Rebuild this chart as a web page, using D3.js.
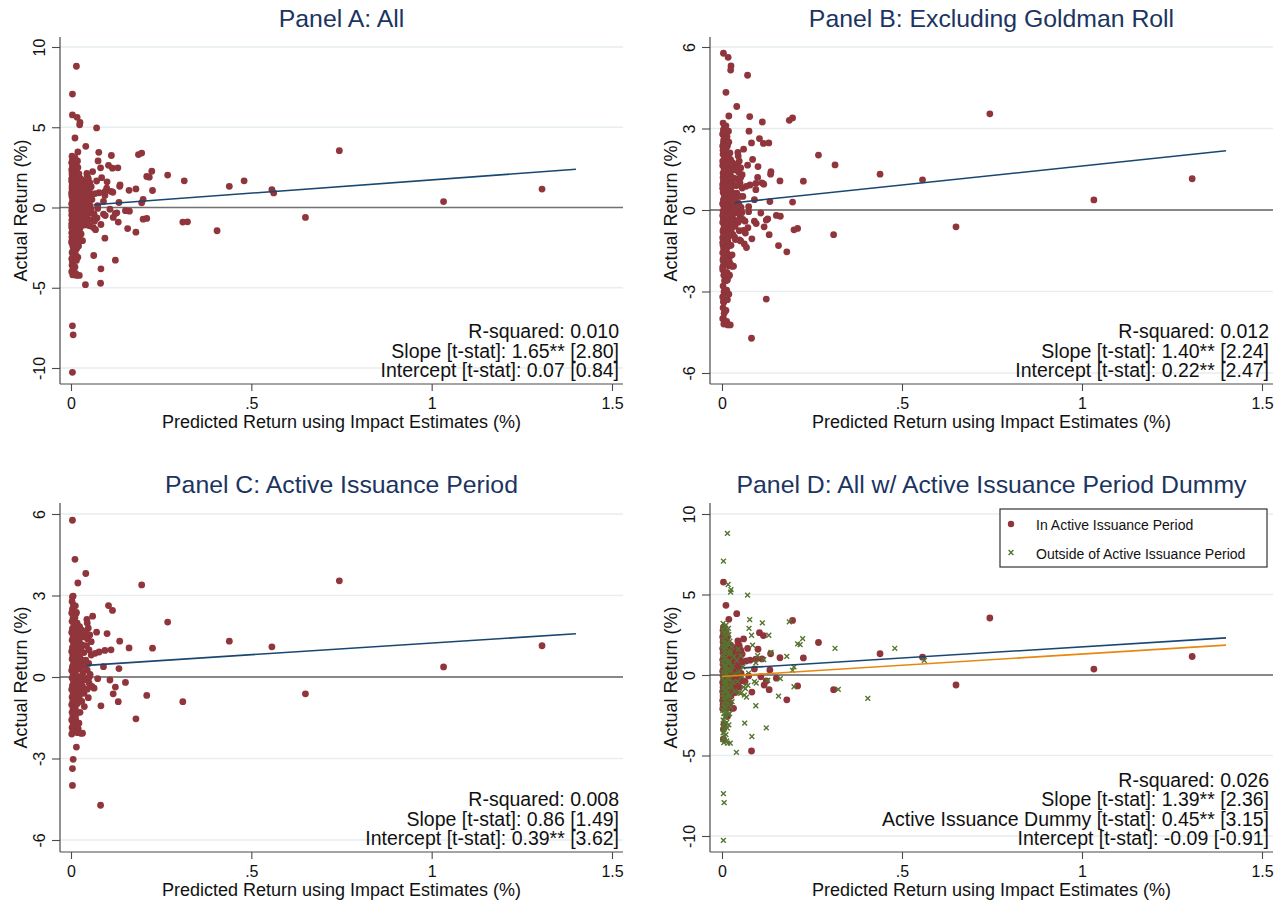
<!DOCTYPE html>
<html>
<head>
<meta charset="utf-8">
<script src="https://cdn.jsdelivr.net/npm/d3@7"></script>
<style>
  body { margin: 0; background: #fff; }
  svg text { font-family: "Liberation Sans", Arial, Helvetica, sans-serif; }
</style>
</head>
<body>
<div id="chart"></div>
<script>
// Predicted vs actual returns, in active issuance period (maroon dots)
const activePts = [
    [0.004, 5.77], [0.011, 4.33], [0.041, 3.81], [0.019, 3.46], [0.196, 3.39], [0.104, 2.63], [0.115, 2.45],
    [0.268, 2.02], [0.06, 2.24], [0.014, 2.34], [0.071, 1.65], [0.1, 1.6], [0.135, 1.32], [0.161, 1.07],
    [0.226, 1.06], [0.439, 1.32], [0.557, 1.11], [0.111, 1.0], [0.094, 0.98], [0.078, 0.92], [0.09, 0.38],
    [0.133, 0.31], [0.074, -0.06], [0.108, -0.11], [0.151, -0.2], [0.123, -0.37], [0.117, -0.62], [0.131, -0.91],
    [0.21, -0.68], [0.31, -0.91], [0.65, -0.62], [0.083, -1.06], [0.18, -1.54], [0.015, -2.58], [0.006, -3.03],
    [0.004, -3.37], [0.004, -3.99], [0.082, -4.72], [0.744, 3.54], [1.306, 1.15], [1.033, 0.37],
    // dense cluster near zero
    [0.004, 2.95], [0.006, 2.98], [0.003, 2.78], [0.007, 2.64], [0.004, 2.5], [0.002, 2.36], [0.006, 2.2],
    [0.003, 2.05], [0.008, 1.92], [0.004, 1.78], [0.002, 1.64], [0.006, 1.5], [0.003, 1.36], [0.007, 1.22],
    [0.004, 1.08], [0.002, 0.94], [0.005, 0.8], [0.003, 0.66], [0.007, 0.52], [0.004, 0.38], [0.002, 0.24],
    [0.006, 0.1], [0.003, -0.04], [0.007, -0.18], [0.004, -0.32], [0.002, -0.46], [0.006, -0.6], [0.003, -0.74],
    [0.005, -0.88], [0.002, -1.02], [0.006, -1.16], [0.003, -1.3], [0.005, -1.44], [0.002, -1.58], [0.006, -1.72],
    [0.003, -1.86], [0.005, -2.0], [0.002, -2.1],
    [0.012, 2.62], [0.015, 2.38], [0.011, 2.18], [0.017, 1.98], [0.013, 1.8], [0.018, 1.62], [0.012, 1.45],
    [0.016, 1.28], [0.013, 1.12], [0.019, 0.96], [0.012, 0.8], [0.016, 0.64], [0.014, 0.48], [0.019, 0.32],
    [0.012, 0.16], [0.017, 0.02], [0.013, -0.14], [0.018, -0.3], [0.012, -0.46], [0.016, -0.62], [0.013, -0.8],
    [0.018, -0.98], [0.012, -1.16], [0.015, -1.36], [0.013, -1.56], [0.017, -1.76], [0.02, -1.9], [0.018, -2.05],
    [0.024, 1.85], [0.03, 1.72], [0.026, 1.55], [0.035, 1.48], [0.023, 1.32], [0.031, 1.18], [0.027, 1.02],
    [0.036, 0.9], [0.024, 0.76], [0.032, 0.62], [0.028, 0.48], [0.038, 0.4], [0.025, 0.3], [0.033, 0.16],
    [0.029, 0.02], [0.037, -0.1], [0.024, -0.2], [0.032, -0.34], [0.027, -0.5], [0.036, -0.6], [0.023, -0.72],
    [0.03, -0.9], [0.025, -1.3], [0.022, -1.7], [0.027, -2.07], [0.032, -2.07],
    [0.044, 2.12], [0.045, 1.99], [0.048, 1.8], [0.042, 1.65], [0.052, 1.55], [0.046, 1.4], [0.056, 1.3],
    [0.043, 1.15], [0.05, 1.0], [0.041, 0.62], [0.049, 0.5], [0.045, 0.25], [0.053, 0.1], [0.042, -0.05],
    [0.05, -0.22], [0.058, -0.35], [0.045, -0.45], [0.048, -0.76], [0.037, -1.09], [0.056, 0.81], [0.067, 0.87],
    [0.064, -0.41], [0.051, 0.0]
];

// Outside active issuance period, kept in Panel B
const outsideKeep = [
    [0.017, 5.62], [0.025, 5.3], [0.024, 5.15], [0.071, 4.96], [0.077, 3.44], [0.075, 2.9], [0.112, 3.24],
    [0.187, 3.3], [0.082, 2.47], [0.13, 2.47], [0.314, 1.66], [0.136, 1.41], [0.116, 0.95], [0.099, 1.2],
    [0.085, 1.86], [0.094, 0.75], [0.074, 0.12], [0.196, 0.29], [0.162, -0.23], [0.127, -0.33], [0.095, -0.5],
    [0.09, -0.41], [0.072, -0.65], [0.065, -0.85], [0.052, -1.14], [0.2, -0.73], [0.157, -1.31], [0.123, -3.28],
    [0.016, -4.23], [0.023, -4.23],
    [0.003, 3.2], [0.006, 3.0], [0.002, 2.8], [0.005, 2.6], [0.008, 2.4], [0.003, 2.2], [0.006, 2.0],
    [0.002, 1.8], [0.005, 1.6], [0.007, 1.4], [0.003, 1.2], [0.006, 1.0], [0.002, 0.8], [0.005, 0.6],
    [0.008, 0.4], [0.003, 0.2], [0.006, 0.0], [0.002, -0.2], [0.005, -0.4], [0.007, -0.6], [0.003, -0.8],
    [0.006, -1.0], [0.002, -1.2], [0.005, -1.4], [0.008, -1.6], [0.003, -1.8], [0.006, -2.0], [0.002, -2.2],
    [0.005, -2.4], [0.007, -2.6], [0.003, -2.8], [0.006, -3.0], [0.002, -3.2], [0.005, -3.4], [0.003, -3.6],
    [0.006, -3.8], [0.002, -4.0], [0.005, -4.2],
    [0.011, 3.1], [0.014, 2.7], [0.01, 2.35], [0.015, 2.0], [0.012, 1.7], [0.016, 1.4], [0.01, 1.1],
    [0.014, 0.85], [0.011, 0.6], [0.016, 0.35], [0.012, 0.1], [0.015, -0.15], [0.01, -0.4], [0.014, -0.65],
    [0.011, -0.9], [0.016, -1.15], [0.012, -1.4], [0.015, -1.7], [0.01, -2.0], [0.014, -2.3], [0.011, -2.6],
    [0.013, -2.95], [0.015, -3.3], [0.011, -3.7], [0.013, -4.1],
    [0.018, 2.9], [0.019, 2.5], [0.018, 1.9], [0.02, 1.3], [0.018, 0.7], [0.019, 0.2], [0.018, -0.3],
    [0.02, -0.8], [0.018, -1.3], [0.019, -1.85], [0.018, -2.45], [0.019, -3.1],
    [0.022, 2.1], [0.028, 1.75], [0.024, 1.45], [0.033, 1.15], [0.021, 0.85], [0.029, 0.55], [0.025, 0.3],
    [0.034, 0.05], [0.022, -0.2], [0.03, -0.45], [0.026, -0.7], [0.035, -1.0], [0.023, -1.3], [0.028, -1.65],
    [0.024, -2.0], [0.021, -2.4],
    [0.045, 1.6], [0.052, 1.2], [0.041, 0.9], [0.058, 0.5], [0.047, 0.2], [0.055, -0.1], [0.043, -0.4],
    [0.06, -0.75], [0.048, -1.1], [0.062, -1.25], [0.068, -1.38]
];

// Outside active issuance period, Goldman roll days (dropped in Panel B)
const outsideRoll = [
    [0.015, 8.8], [0.004, 7.07], [0.004, -7.37], [0.006, -7.93], [0.004, -10.27], [0.083, -3.82], [0.04, -4.81],
    [0.063, -2.99], [0.094, -1.91], [0.405, -1.45], [0.48, 1.66], [0.562, 0.91], [0.323, -0.89], [0.21, 1.93],
    [0.217, 1.89], [0.224, 2.26], [0.18, 1.16], [0.2, 0.5]
];

const xTicks = [0, 0.5, 1, 1.5];
const yTicksWide = [-10, -5, 0, 5, 10];
const yTicksNarrow = [-6, -3, 0, 3, 6];

const titles = [
    "Panel A: All",
    "Panel B: Excluding Goldman Roll",
    "Panel C: Active Issuance Period",
    "Panel D: All w/ Active Issuance Period Dummy"
];
const statsA = ["R-squared: 0.010", "Slope [t-stat]: 1.65** [2.80]", "Intercept [t-stat]: 0.07 [0.84]"];
const statsB = ["R-squared: 0.012", "Slope [t-stat]: 1.40** [2.24]", "Intercept [t-stat]: 0.22** [2.47]"];
const statsC = ["R-squared: 0.008", "Slope [t-stat]: 0.86 [1.49]", "Intercept [t-stat]: 0.39** [3.62]"];
const statsD = ["R-squared: 0.026", "Slope [t-stat]: 1.39** [2.36]",
    "Active Issuance Dummy [t-stat]: 0.45** [3.15]", "Intercept [t-stat]: -0.09 [-0.91]"];

// fitted lines (intercept, slope, x start); all end at 1.4
const fitIntercepts = [0.07, 0.22, 0.39, 0.36];
const fitSlopes = [1.65, 1.40, 0.86, 1.39];
const fitStarts = [0.063, 0.035, 0.045, 0.06];
const outsideFit = [-0.09, 1.39, 0.0];
const fitEnd = 1.4;

const legendLabels = ["In Active Issuance Period", "Outside of Active Issuance Period"];

const MAROON = "#90353b", GREEN = "#55752f", NAVY = "#1a476f", ORANGE = "#e8870f";
const TITLE_COLOR = "#1c3461", AXIS_COLOR = "#4a4a4a", GRID_COLOR = "#e6eef1";

const svg = d3.select("#chart").append("svg")
    .attr("width", 1284)
    .attr("height", 903)
    .style("background", "#fff");

const allPts = activePts.concat(outsideKeep, outsideRoll);
const noRollPts = activePts.concat(outsideKeep);

const panels = [
    { title: titles[0], stats: statsA, dots: allPts, crosses: [], left: 60, right: 623, top: 37, bottom: 384,
      xr: [71, 612], yTicks: yTicksWide, yr: [368, 47], zero: "#707070", zeroW: 1.6 },
    { title: titles[1], stats: statsB, dots: noRollPts, crosses: [], left: 710, right: 1273, top: 37, bottom: 384,
      xr: [722, 1262], yTicks: yTicksNarrow, yr: [373, 47], zero: "#111", zeroW: 1.2 },
    { title: titles[2], stats: statsC, dots: activePts, crosses: [], left: 60, right: 623, top: 503, bottom: 852,
      xr: [71, 612], yTicks: yTicksNarrow, yr: [840, 514], zero: "#111", zeroW: 1.2 },
    { title: titles[3], stats: statsD, dots: activePts, crosses: outsideKeep.concat(outsideRoll), left: 710, right: 1273,
      top: 503, bottom: 852, xr: [722, 1262], yTicks: yTicksWide, yr: [836, 514], zero: "#111", zeroW: 1.2 }
];

const xFmt = d => d === 0 ? "0" : (d < 1 ? String(d).replace(/^0/, "") : String(d));

panels.forEach((p, i) => {
    const g = svg.append("g");
    const x = d3.scaleLinear().domain([0, 1.5]).range(p.xr);
    const y = d3.scaleLinear().domain([p.yTicks[0], p.yTicks[p.yTicks.length - 1]]).range(p.yr);

    // gridlines
    g.selectAll(".grid")
        .data(p.yTicks.filter(t => t !== 0))
        .enter().append("line")
        .attr("x1", p.left).attr("x2", p.right)
        .attr("y1", d => y(d)).attr("y2", d => y(d))
        .attr("stroke", GRID_COLOR).attr("stroke-width", 1.5);

    // zero line
    g.append("line")
        .attr("x1", p.left).attr("x2", p.right)
        .attr("y1", y(0)).attr("y2", y(0))
        .attr("stroke", p.zero).attr("stroke-width", p.zeroW);

    // y axis
    const yAx = g.append("g")
        .attr("transform", `translate(${p.left},0)`)
        .call(d3.axisLeft(y).tickValues(p.yTicks).tickSize(8).tickFormat(d => String(d)));
    yAx.select(".domain").remove();
    yAx.selectAll(".tick line").attr("stroke", AXIS_COLOR).attr("stroke-width", 1.1);
    yAx.selectAll(".tick text")
        .attr("transform", "rotate(-90)")
        .attr("x", 0).attr("y", -15).attr("dy", 0)
        .attr("text-anchor", "middle")
        .attr("fill", "#111")
        .style("font-size", "16px");

    // x axis
    const xAx = g.append("g")
        .attr("transform", `translate(0,${p.bottom})`)
        .call(d3.axisBottom(x).tickValues(xTicks).tickSize(7).tickFormat(xFmt));
    xAx.select(".domain").remove();
    xAx.selectAll(".tick line").attr("stroke", AXIS_COLOR).attr("stroke-width", 1.1);
    xAx.selectAll(".tick text")
        .attr("y", 25).attr("dy", 0)
        .attr("fill", "#111")
        .style("font-size", "16px");

    // axis lines
    g.append("line").attr("x1", p.left).attr("x2", p.left).attr("y1", p.top).attr("y2", p.bottom)
        .attr("stroke", AXIS_COLOR).attr("stroke-width", 1.2);
    g.append("line").attr("x1", p.left).attr("x2", p.right).attr("y1", p.bottom).attr("y2", p.bottom)
        .attr("stroke", AXIS_COLOR).attr("stroke-width", 1.2);

    // points
    g.selectAll(".dot")
        .data(p.dots)
        .enter().append("circle")
        .attr("cx", d => x(d[0]))
        .attr("cy", d => y(d[1]))
        .attr("r", 3.4)
        .attr("fill", MAROON);

    g.selectAll(".cross")
        .data(p.crosses)
        .enter().append("path")
        .attr("transform", d => `translate(${x(d[0])},${y(d[1])})`)
        .attr("d", "M-2.4,-2.4L2.4,2.4M-2.4,2.4L2.4,-2.4")
        .attr("stroke", GREEN)
        .attr("stroke-width", 1.4)
        .attr("fill", "none");

    // fitted lines
    const fitLine = (a, b, x0) => g.append("line")
        .attr("x1", x(x0)).attr("y1", y(a + b * x0))
        .attr("x2", x(fitEnd)).attr("y2", y(a + b * fitEnd));

    fitLine(fitIntercepts[i], fitSlopes[i], fitStarts[i])
        .attr("stroke", NAVY).attr("stroke-width", 1.6);
    if (i === 3) {
        fitLine(outsideFit[0], outsideFit[1], outsideFit[2])
            .attr("stroke", ORANGE).attr("stroke-width", 1.6);
    }

    // titles
    g.append("text")
        .attr("x", (p.left + p.right) / 2)
        .attr("y", p.top - 10)
        .attr("text-anchor", "middle")
        .attr("fill", TITLE_COLOR)
        .style("font-size", "24.8px")
        .text(p.title);

    g.append("text")
        .attr("transform", `translate(${p.left - 33},${(p.top + p.bottom) / 2}) rotate(-90)`)
        .attr("text-anchor", "middle")
        .attr("fill", "#111")
        .style("font-size", "18px")
        .text("Actual Return (%)");

    g.append("text")
        .attr("x", (p.left + p.right) / 2)
        .attr("y", p.bottom + 44)
        .attr("text-anchor", "middle")
        .attr("fill", "#111")
        .style("font-size", "18px")
        .text("Predicted Return using Impact Estimates (%)");

    // regression stats
    const n = p.stats.length;
    g.selectAll(".stat")
        .data(p.stats)
        .enter().append("text")
        .attr("x", p.right - 4)
        .attr("y", (d, k) => p.bottom - 7 - (n - 1 - k) * 19.5)
        .attr("text-anchor", "end")
        .attr("fill", "#111")
        .style("font-size", "19.5px")
        .text(d => d);
});

// Legend for Panel D
const lg = svg.append("g");
lg.append("rect")
    .attr("x", 1000).attr("y", 509)
    .attr("width", 267).attr("height", 58)
    .attr("fill", "#fff")
    .attr("stroke", "#333")
    .attr("stroke-width", 1.2);
lg.append("circle").attr("cx", 1011).attr("cy", 524).attr("r", 3.2).attr("fill", MAROON);
lg.append("path")
    .attr("transform", "translate(1011,552.5)")
    .attr("d", "M-2.4,-2.4L2.4,2.4M-2.4,2.4L2.4,-2.4")
    .attr("stroke", GREEN).attr("stroke-width", 1.4);
lg.selectAll(".lbl")
    .data(legendLabels)
    .enter().append("text")
    .attr("x", 1036)
    .attr("y", (d, k) => 529.5 + k * 29)
    .attr("fill", "#111")
    .style("font-size", "14px")
    .text(d => d);
</script>
</body>
</html>
